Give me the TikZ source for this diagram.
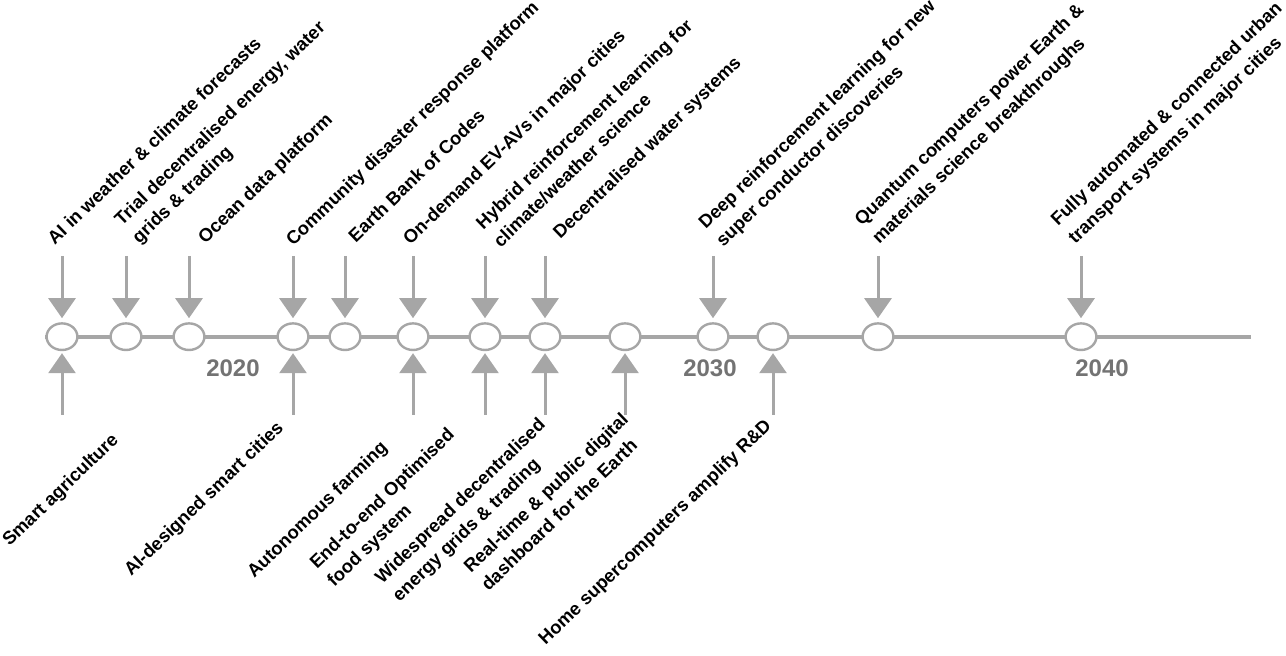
\documentclass[tikz,border=0pt]{standalone}
\usepackage{fontspec}
\setmainfont{Liberation Sans}
\usetikzlibrary{shapes.geometric,arrows.meta,calc}
\definecolor{linegray}{HTML}{A6A6A6}
\definecolor{yeargray}{HTML}{737373}
\tikzset{>={Triangle[width=13.5pt,length=10pt]}}

\begin{document}
\begin{tikzpicture}[x=0.5pt,y=-0.5pt,
		dot/.style={ellipse,draw=linegray,line width=1.2pt,fill=white,minimum width=15.4pt,minimum height=13.3pt,inner sep=0pt},
		arr/.style={->,linegray,line width=1.5pt,shorten >=2pt},
		toplab/.style={rotate=44,anchor=south west,align=left,inner sep=0pt,font=\bfseries\fontsize{9.2}{12.5}\selectfont},
		botlab/.style={rotate=44,anchor=north east,align=left,inner sep=0pt,font=\bfseries\fontsize{9.2}{12.5}\selectfont},
		year/.style={yeargray,font=\bfseries\fontsize{12}{14}\selectfont}]
		\useasboundingbox (0,0) rectangle (1286,656);
		\draw[linegray,line width=2pt] (45,336.7) -- (1251,336.7);
		\foreach \x [count=\n] in {62,126,189,293,345,413,485,545,625,713,773,878,1081}
			\node[dot] (c\n) at (\x,336.7) {};
		\foreach \n in {1,2,3,4,5,6,7,8,10,12,13}{
			\coordinate (t\n) at ($(c\n)+(0,-80.7)$);
			\draw[arr] (t\n) -- (c\n);
		}
		\foreach \n in {1,4,6,7,8,9,11}{
			\coordinate (b\n) at ($(c\n)+(0,78.3)$);
			\draw[arr,shorten >=1pt] (b\n) -- (c\n);
		}
		\node[year] (y2020) at (233,368) {2020};
		\node[year] (y2030) at (710,368) {2030};
		\node[year] (y2040) at (1102,368) {2040};
		\node[toplab] (l1) at (55,246) {AI in weather \& climate forecasts};
		\node[toplab] (l2) at (142,247.6) {Trial decentralised energy, water\\grids \& trading};
		\node[toplab] (l3) at (208,248) {Ocean data platform};
		\node[toplab] (l4) at (296,250) {Community disaster response platform};
		\node[toplab] (l5) at (356,244) {Earth Bank of Codes};
		\node[toplab] (l6) at (413,249) {On-demand EV-AVs in major cities};
		\node[toplab] (l7) at (501,249) {Hybrid reinforcement learning for\\climate/weather science};
		\node[toplab] (l8) at (563,243) {Decentralised water systems};
		\node[toplab] (l10) at (726,251) {Deep reinforcement learning for new\\super conductor discoveries};
		\node[toplab] (l12) at (882,248) {Quantum computers power Earth \&\\materials science breakthroughs};
		\node[toplab] (l13) at (1078,248) {Fully automated \& connected urban\\transport systems in major cities};
		\node[botlab] (m1) at (110,431) {Smart agriculture};
		\node[botlab] (m4) at (275,419) {AI-designed smart cities};
		\node[botlab] (m6) at (379,439) {Autonomous farming};
		\node[botlab] (m7) at (446,426) {End-to-end Optimised\\food system};
		\node[botlab] (m8) at (537,416) {Widespread decentralised\\energy grids \& trading};
		\node[botlab] (m9) at (620,411) {Real-time \& public digital\\dashboard for the Earth};
		\node[botlab] (m11) at (763,417) {Home supercomputers amplify R\&D};
	\end{tikzpicture}
\end{document}
